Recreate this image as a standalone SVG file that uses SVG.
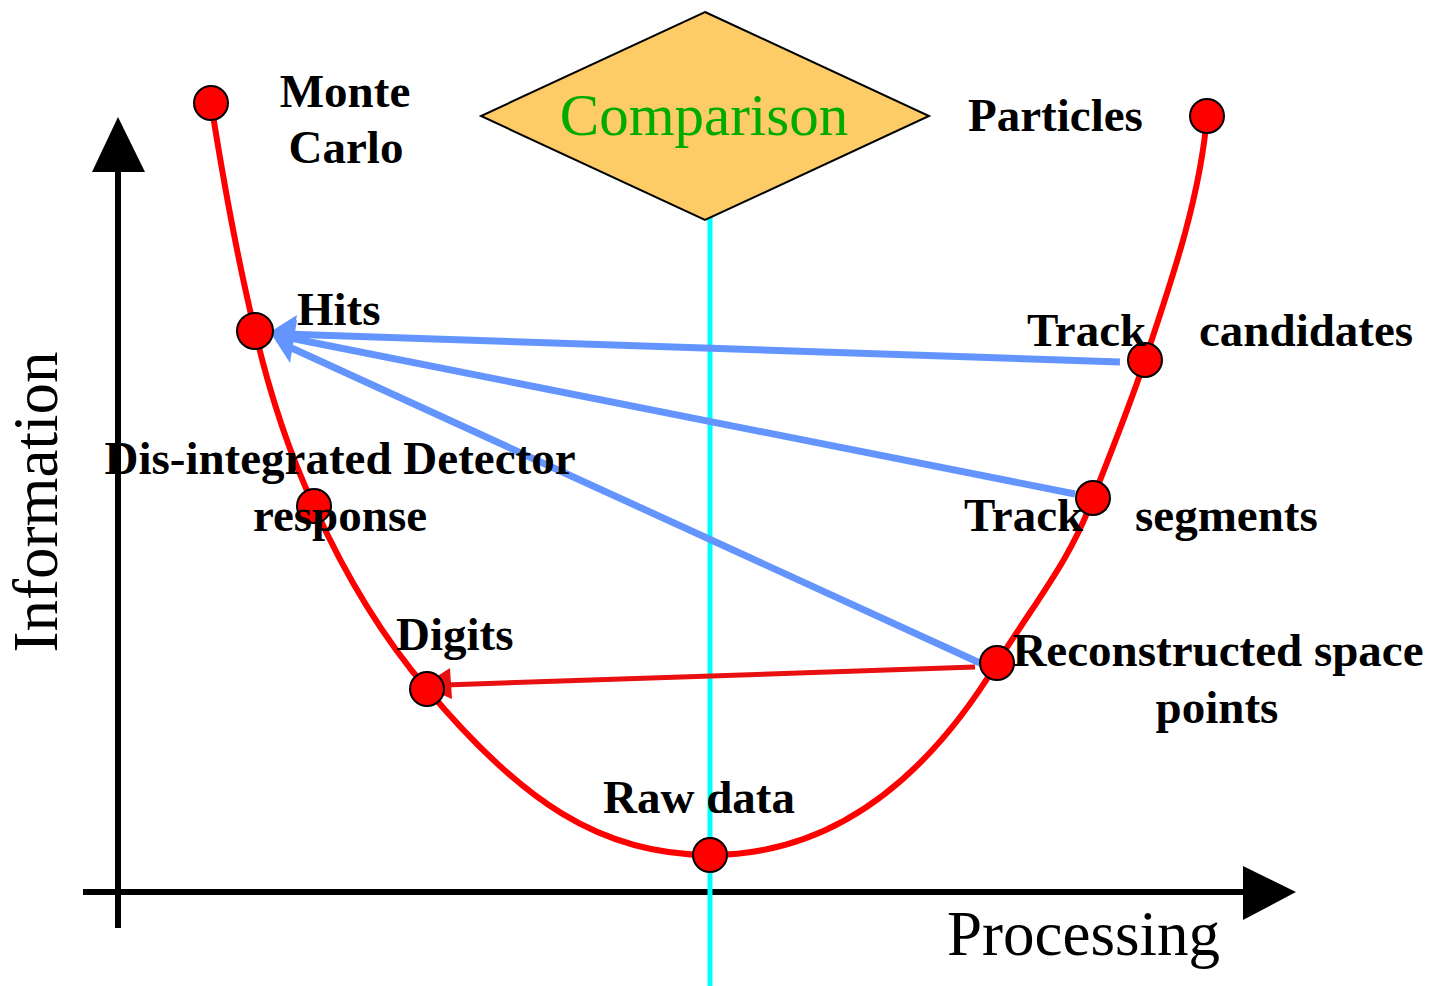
<svg xmlns="http://www.w3.org/2000/svg" width="1431" height="986" viewBox="0 0 1431 986">
<style>
.lbl{font-family:"Liberation Serif","Times New Roman",serif;font-weight:bold;font-size:47px;fill:#000}
.ax{font-family:"Liberation Serif","Times New Roman",serif;font-size:63px;fill:#000}
.dot{fill:#FF0000;stroke:#000;stroke-width:2}
.blue{stroke:#6495FF;stroke-width:7;fill:none}
</style>
<rect width="1431" height="986" fill="#fff"/>
<g id="axes">
<line x1="118" y1="928" x2="118" y2="170" stroke="#000" stroke-width="6"/>
<polygon points="118,117 92,172 145,172" fill="#000"/>
<line x1="83" y1="892" x2="1246" y2="892" stroke="#000" stroke-width="6"/>
<polygon points="1296,892 1243,866 1243,920" fill="#000"/>
<text class="ax" x="947" y="955">Processing</text>
<text class="ax" transform="translate(57,502) rotate(-90)" text-anchor="middle">Information</text>
</g>
<g id="connectors">
<line x1="710" y1="215" x2="710" y2="986" stroke="#00FFFF" stroke-width="5"/>
<path id="curve" d="M211,103 C228,210 240,270 255,331 C270,395 290,455 314,506 C345,575 385,640 427,689 C520,800 600,855 710,855 C860,855 950,740 997,663 C1040,595 1070,560 1093,498 C1112,450 1130,405 1145,360 C1170,285 1200,200 1207,116" fill="none" stroke="#FF0000" stroke-width="6"/>
<line class="blue" x1="1120" y1="362" x2="285" y2="334"/>
<line class="blue" x1="1075" y1="494" x2="285" y2="337"/>
<line class="blue" x1="980" y1="663" x2="285" y2="345"/>
<polygon points="270,332 297,315 290,351" fill="#6495FF"/>
<polygon points="270,332 297,320 290,363" fill="#6495FF"/>
<line x1="975" y1="667" x2="445" y2="685" stroke="#E81010" stroke-width="5"/>
<polygon points="422,686 450,668 452,699" fill="#E81010"/>
</g>
<g id="comparison">
<polygon points="705,12 929,116 705,220 481,116" fill="#FDCC66" stroke="#000" stroke-width="2"/>
<text x="704" y="135" text-anchor="middle" font-family="Liberation Serif, Times New Roman, serif" font-size="59" fill="#00AA00">Comparison</text>
</g>
<g id="monte-carlo"><circle class="dot" cx="211" cy="103" r="17"/><text class="lbl" x="345" y="107" text-anchor="middle">Monte</text><text class="lbl" x="346" y="163" text-anchor="middle">Carlo</text></g>
<g id="hits"><circle class="dot" cx="255" cy="331" r="18"/><text class="lbl" x="297" y="325">Hits</text></g>
<g id="detector-response"><circle class="dot" cx="314" cy="506" r="17"/><text class="lbl" x="340" y="474" text-anchor="middle">Dis-integrated Detector</text><text class="lbl" x="340" y="531" text-anchor="middle">response</text></g>
<g id="digits"><circle class="dot" cx="427" cy="689" r="17"/><text class="lbl" x="396" y="650">Digits</text></g>
<g id="raw-data"><circle class="dot" cx="710" cy="855" r="17"/><text class="lbl" x="699" y="813" text-anchor="middle">Raw data</text></g>
<g id="space-points"><circle class="dot" cx="997" cy="663" r="17"/><text class="lbl" x="1218" y="666" text-anchor="middle">Reconstructed space</text><text class="lbl" x="1217" y="723" text-anchor="middle">points</text></g>
<g id="track-segments"><circle class="dot" cx="1093" cy="498" r="17"/><text class="lbl" x="964" y="531">Track</text><text class="lbl" x="1135" y="531">segments</text></g>
<g id="track-candidates"><circle class="dot" cx="1145" cy="360" r="17"/><text class="lbl" x="1027" y="346">Track</text><text class="lbl" x="1199" y="346">candidates</text></g>
<g id="particles"><circle class="dot" cx="1207" cy="116" r="17"/><text class="lbl" x="968" y="131">Particles</text></g>
</svg>
